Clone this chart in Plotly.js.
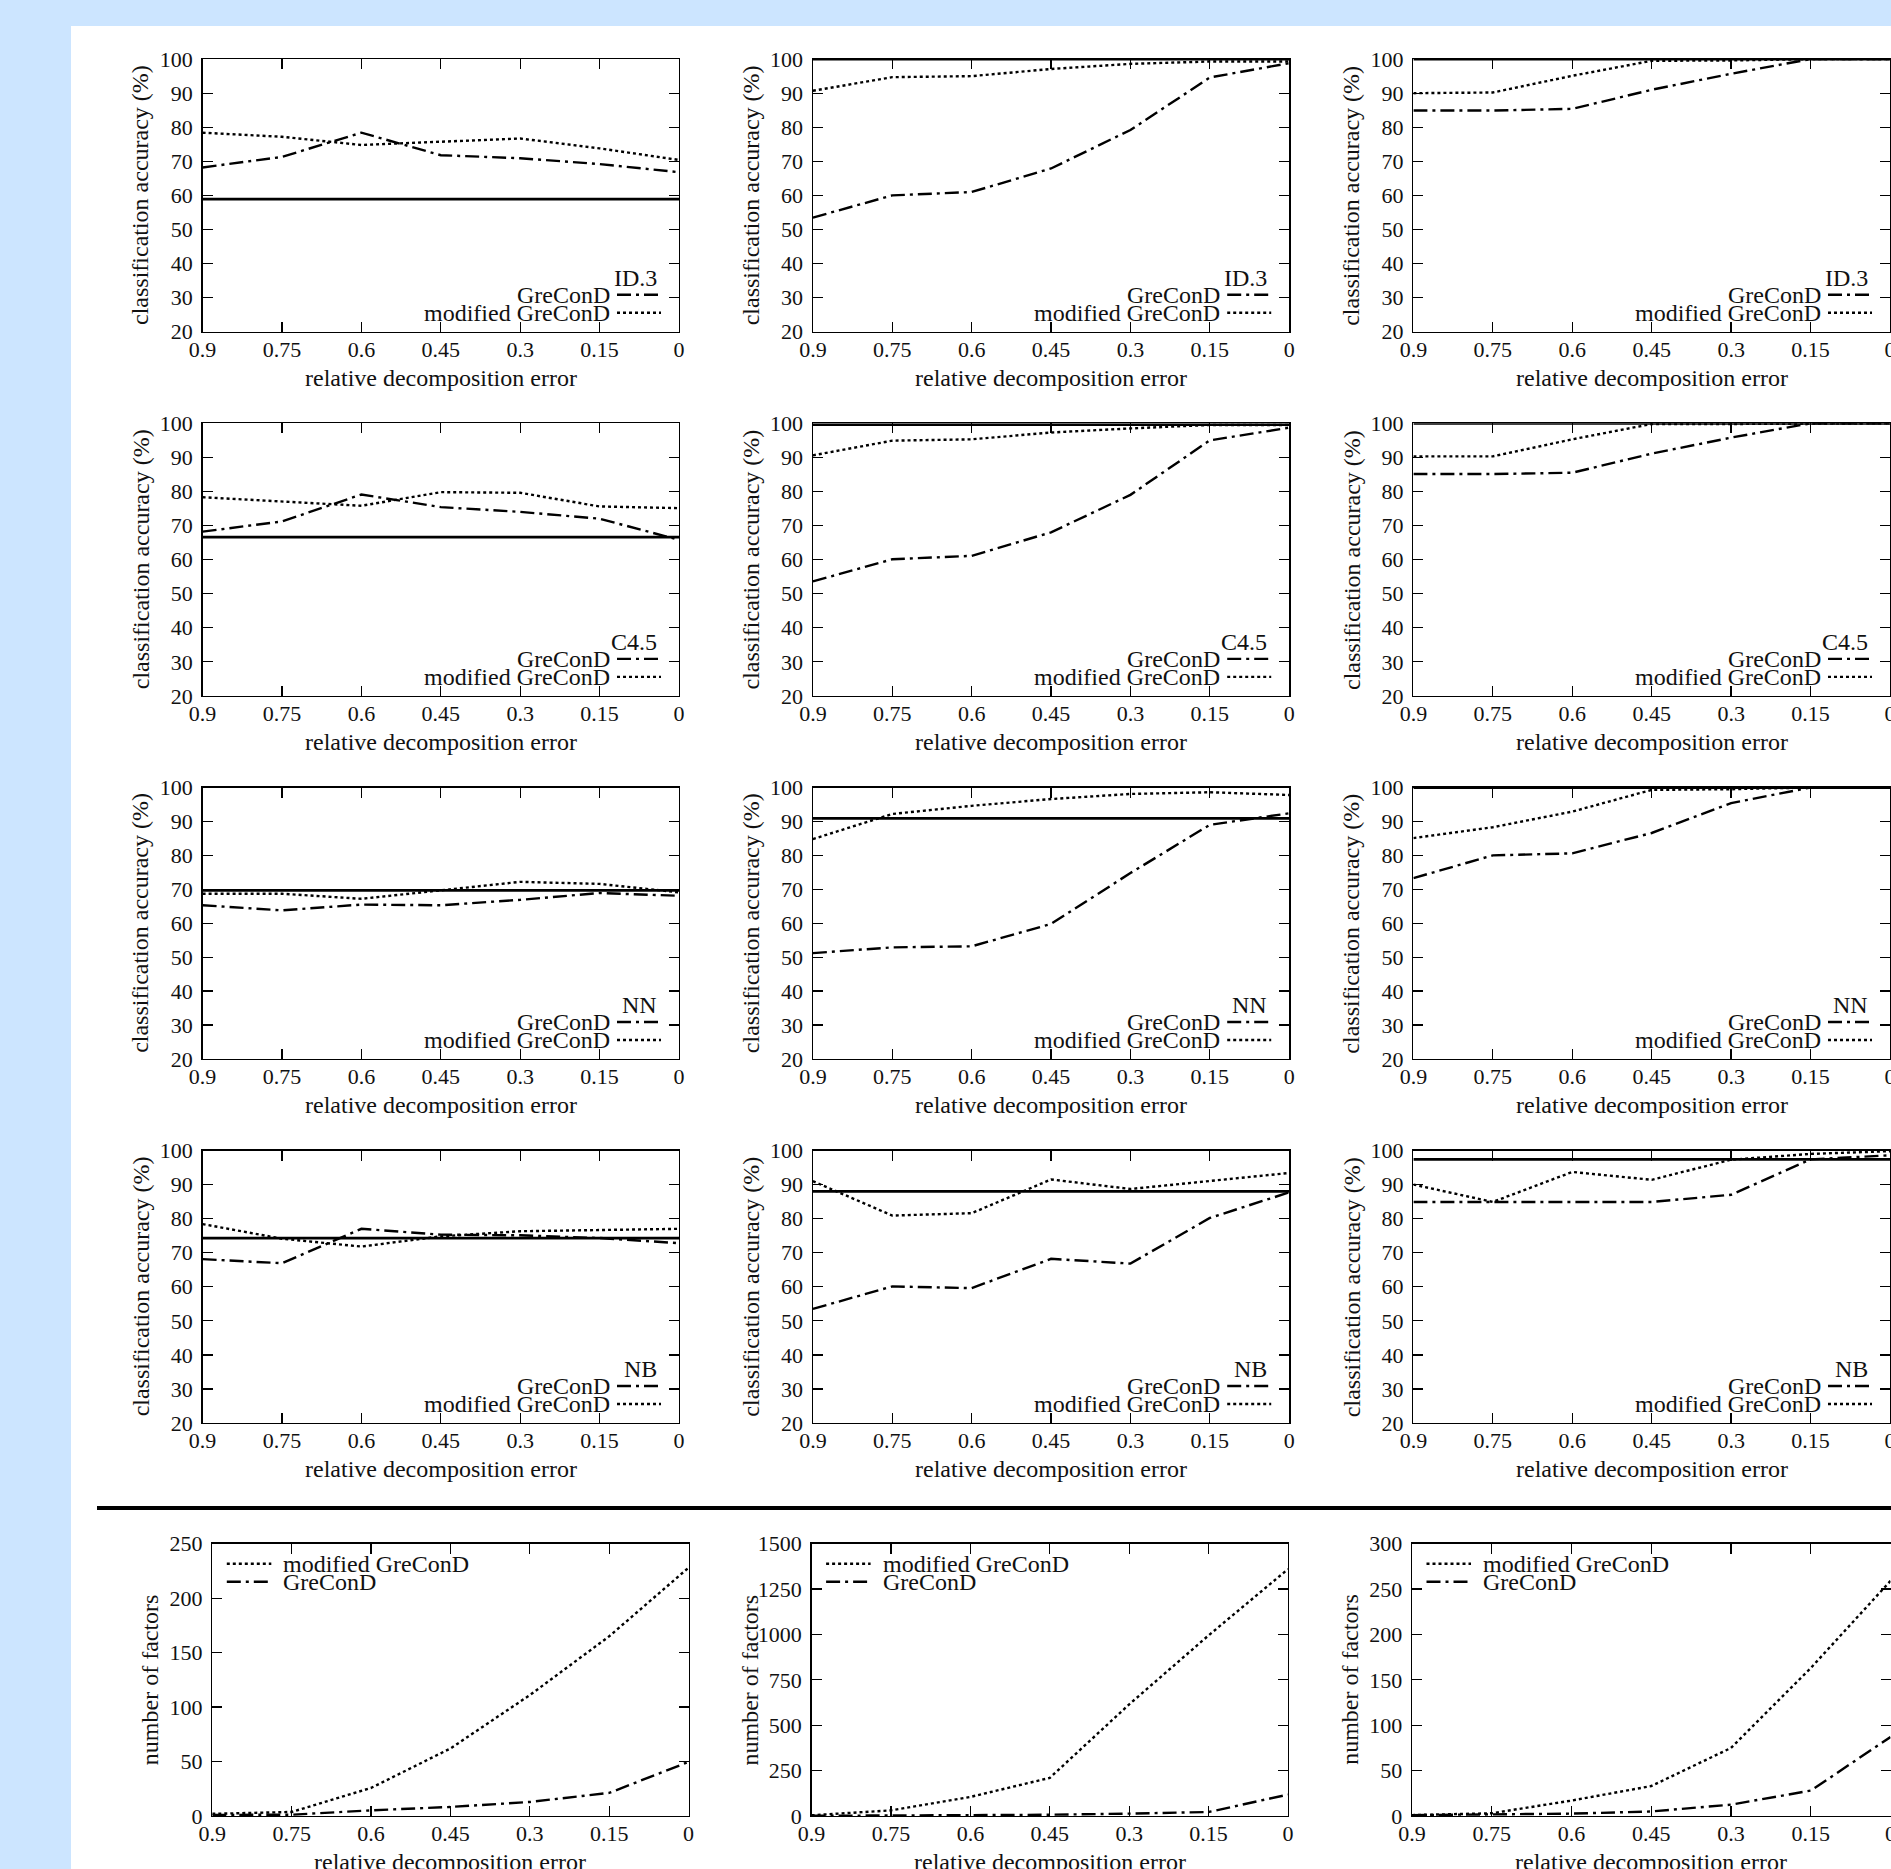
<!DOCTYPE html>
<html><head><meta charset="utf-8">
<script src="https://cdn.plot.ly/plotly-3.0.1.min.js"></script>
<style>
html,body{margin:0;padding:0;background:#cce5ff;width:1891px;height:1869px;overflow:hidden;}
#chart{position:absolute;left:71px;top:26px;width:1820px;height:1843px;background:#fff;}
</style></head><body><div id="chart"></div>
<script>
// ---------------- DATA ----------------
const errorLevels = [0.9, 0.75, 0.6, 0.45, 0.3, 0.15, 0];
const errorTickLabels = ['0.9', '0.75', '0.6', '0.45', '0.3', '0.15', '0'];
const classifiers = ['ID.3', 'C4.5', 'NN', 'NB'];
const seriesNames = ['GreConD', 'modified GreConD'];
const accuracyTicks = [20, 30, 40, 50, 60, 70, 80, 90, 100];

// accuracy on the original data (solid line), datasets 1..3
const baselineID3 = [58.9, 100, 100];
const baselineC45 = [66.6, 99.6, 100];
const baselineNN = [69.7, 90.9, 100];
const baselineNB = [74.3, 88.0, 97.4];

const id3GreConD1 = [68.2, 71.3, 78.4, 71.8, 70.9, 69.2, 66.8];
const id3Modified1 = [78.4, 77.2, 74.8, 75.8, 76.7, 73.8, 70.4];
const id3GreConD2 = [53.5, 60.0, 61.0, 67.9, 79.2, 94.6, 98.8];
const id3Modified2 = [90.7, 94.7, 95.0, 97.1, 98.6, 99.3, 99.3];
const id3GreConD3 = [84.9, 84.9, 85.4, 91.0, 95.7, 100, 100];
const id3Modified3 = [90.0, 90.2, 95.1, 99.5, 99.6, 100, 100];

const c45GreConD1 = [68.2, 71.2, 79.1, 75.4, 74.0, 72.0, 65.8];
const c45Modified1 = [78.3, 77.1, 75.8, 79.8, 79.6, 75.6, 75.1];
const c45GreConD2 = [53.6, 60.1, 61.1, 68.0, 79.0, 95.0, 98.7];
const c45Modified2 = [90.6, 94.9, 95.3, 97.3, 98.5, 99.5, 99.5];
const c45GreConD3 = [85.1, 85.1, 85.5, 91.1, 95.8, 100, 100];
const c45Modified3 = [90.3, 90.3, 95.3, 99.8, 99.8, 100, 100];

const nnGreConD1 = [65.3, 63.8, 65.5, 65.3, 66.9, 68.9, 68.1];
const nnModified1 = [68.7, 68.7, 67.2, 69.7, 72.2, 71.6, 69.1];
const nnGreConD2 = [51.2, 52.9, 53.2, 59.8, 74.8, 89.0, 92.4];
const nnModified2 = [84.8, 92.2, 94.6, 96.6, 98.1, 98.6, 97.8];
const nnGreConD3 = [73.3, 80.0, 80.6, 86.6, 95.4, 100, 100];
const nnModified3 = [85.1, 88.3, 92.9, 99.3, 99.5, 100, 100];

const nbGreConD1 = [68.1, 66.9, 77.0, 75.3, 75.1, 74.3, 72.8];
const nbModified1 = [78.4, 74.1, 71.8, 74.8, 76.3, 76.7, 77.0];
const nbGreConD2 = [53.5, 60.1, 59.6, 68.2, 66.8, 80.2, 87.7];
const nbModified2 = [91.0, 80.9, 81.6, 91.5, 88.7, 91.0, 93.4];
const nbGreConD3 = [84.9, 84.9, 84.9, 84.9, 87.0, 97.4, 98.6];
const nbModified3 = [90.0, 84.9, 93.7, 91.4, 97.3, 99.0, 99.8];

const factorsGreConD1 = [1, 1.2, 5.2, 8.3, 12.9, 21.2, 49.7];
const factorsModified1 = [2, 3.7, 25.8, 62, 111, 165, 228];
const factorsGreConD2 = [1, 2, 4, 7, 13, 22, 118];
const factorsModified2 = [4, 31, 105, 210, 615, 995, 1360];
const factorsGreConD3 = [1, 1.5, 2.6, 5, 12.5, 28, 87];
const factorsModified3 = [1, 3, 17, 33, 75, 163, 259];
const factorTicks1 = [0, 50, 100, 150, 200, 250];
const factorTicks2 = [0, 250, 500, 750, 1000, 1250, 1500];
const factorTicks3 = [0, 50, 100, 150, 200, 250, 300];

// ---------------- LAYOUT ----------------
const W = 1820, H = 1843;
const FONT = 'Liberation Serif, Times New Roman, serif';
const TXT = '#111';
const TICKSIZE = 22, TEXTSIZE = 24;
const accCols = [[131.6, 608], [741.9, 1218.2], [1342.4, 1819]];
const accRows = [[33.1, 305.7], [397.3, 669.9], [761.5, 1033], [1124.5, 1397]];
const facCols = [[141.3, 617.6], [740.6, 1217], [1341, 1819.5]];
const facRow = [1517.7, 1790];

const DASHDOT = '14px,5px,3px,5px';
const DOT = '3px,3px';

const accPanels = [
  [classifiers[0], baselineID3, [id3GreConD1, id3GreConD2, id3GreConD3], [id3Modified1, id3Modified2, id3Modified3]],
  [classifiers[1], baselineC45, [c45GreConD1, c45GreConD2, c45GreConD3], [c45Modified1, c45Modified2, c45Modified3]],
  [classifiers[2], baselineNN, [nnGreConD1, nnGreConD2, nnGreConD3], [nnModified1, nnModified2, nnModified3]],
  [classifiers[3], baselineNB, [nbGreConD1, nbGreConD2, nbGreConD3], [nbModified1, nbModified2, nbModified3]]
];
const facPanels = [
  [factorTicks1, factorsGreConD1, factorsModified1],
  [factorTicks2, factorsGreConD2, factorsModified2],
  [factorTicks3, factorsGreConD3, factorsModified3]
];

const traces = [];
const layout = {
  width: W, height: H,
  margin: {l: 0, r: 0, t: 0, b: 0, pad: 0},
  paper_bgcolor: '#ffffff', plot_bgcolor: '#ffffff',
  showlegend: false,
  font: {family: FONT, size: TEXTSIZE, color: TXT},
  annotations: [], shapes: []
};

function axCommon() {
  return {
    showline: true, mirror: 'allticks', linecolor: '#000', linewidth: 1.4,
    ticks: 'inside', ticklen: 10, tickwidth: 1.3, tickcolor: '#000',
    showgrid: false, zeroline: false, fixedrange: true,
    ticklabeloverflow: 'allow',
    tickfont: {family: FONT, size: TICKSIZE, color: TXT}
  };
}

let n = 0;
function addPanel(cols, rows, yTicks, yTitle, series, legend) {
  n += 1;
  const id = n === 1 ? '' : String(n);
  const xa = axCommon(), ya = axCommon();
  xa.domain = [cols[0] / W, cols[1] / W];
  xa.range = [errorLevels[0], errorLevels[errorLevels.length - 1]];
  xa.tickmode = 'array'; xa.tickvals = errorLevels; xa.ticktext = errorTickLabels;
  xa.anchor = 'y' + id;
  xa.ticklabelstandoff = -3;
  ya.domain = [1 - rows[1] / H, 1 - rows[0] / H];
  ya.range = [yTicks[0], yTicks[yTicks.length - 1]];
  ya.tickmode = 'array'; ya.tickvals = yTicks; ya.ticktext = yTicks.map(String);
  ya.anchor = 'x' + id;
  ya.ticklabelstandoff = 4;
  layout['xaxis' + id] = xa;
  layout['yaxis' + id] = ya;
  series.forEach(s => traces.push({
    x: errorLevels, y: s.y, name: s.name, type: 'scatter', mode: 'lines',
    xaxis: 'x' + id, yaxis: 'y' + id, showlegend: false, hoverinfo: 'skip',
    line: {color: '#000', width: s.width, dash: s.dash}
  }));
  // axis titles
  layout.annotations.push({
    text: 'relative decomposition error', xref: 'paper', yref: 'paper',
    x: (cols[0] + cols[1]) / 2 / W, y: 1 - (rows[1] + 46) / H,
    xanchor: 'center', yanchor: 'middle', showarrow: false,
    font: {family: FONT, size: TEXTSIZE, color: TXT}
  });
  layout.annotations.push({
    text: yTitle, xref: 'paper', yref: 'paper', textangle: -90,
    x: (cols[0] - 62) / W, y: 1 - (rows[0] + rows[1]) / 2 / H,
    xanchor: 'center', yanchor: 'middle', showarrow: false,
    font: {family: FONT, size: TEXTSIZE, color: TXT}
  });
  legend(id, cols, rows);
}

function legendBottomRight(title) {
  return function (id, cols, rows) {
    const w = cols[1] - cols[0], h = rows[1] - rows[0];
    const xr = 'x' + id + ' domain', yr = 'y' + id + ' domain';
    layout.annotations.push({
      text: title, xref: xr, yref: yr, x: 1 - 20 / w, y: 54 / h,
      xanchor: 'right', yanchor: 'middle', showarrow: false,
      font: {family: FONT, size: TEXTSIZE, color: TXT}
    });
    [[seriesNames[0], 37, DASHDOT], [seriesNames[1], 19, DOT]].forEach(e => {
      layout.annotations.push({
        text: e[0], xref: xr, yref: yr, x: 1 - 67 / w, y: e[1] / h,
        xanchor: 'right', yanchor: 'middle', showarrow: false,
        font: {family: FONT, size: TEXTSIZE, color: TXT}
      });
      layout.shapes.push({
        type: 'line', xref: xr, yref: yr, x0: 1 - 62 / w, x1: 1 - 18 / w,
        y0: e[1] / h, y1: e[1] / h, line: {color: '#000', width: 2.4, dash: e[2]}
      });
    });
  };
}

function legendTopLeft(id, cols, rows) {
  const w = cols[1] - cols[0], h = rows[1] - rows[0];
  const xr = 'x' + id + ' domain', yr = 'y' + id + ' domain';
  [[seriesNames[1], 20, DOT], [seriesNames[0], 38, DASHDOT]].forEach(e => {
    layout.annotations.push({
      text: e[0], xref: xr, yref: yr, x: 69 / w, y: 1 - e[1] / h,
      xanchor: 'left', yanchor: 'middle', showarrow: false,
      font: {family: FONT, size: TEXTSIZE, color: TXT}
    });
    layout.shapes.push({
      type: 'line', xref: xr, yref: yr, x0: 14.5 / w, x1: 59 / w,
      y0: 1 - e[1] / h, y1: 1 - e[1] / h, line: {color: '#000', width: 2.4, dash: e[2]}
    });
  });
}

accPanels.forEach((p, r) => {
  for (let c = 0; c < 3; c++) {
    addPanel(accCols[c], accRows[r], accuracyTicks, 'classification accuracy (%)', [
      {name: 'original data', y: errorLevels.map(() => p[1][c]), width: 2.8, dash: 'solid'},
      {name: seriesNames[0], y: p[2][c], width: 2.4, dash: DASHDOT},
      {name: seriesNames[1], y: p[3][c], width: 2.4, dash: DOT}
    ], legendBottomRight(p[0]));
  }
});

facPanels.forEach((p, c) => {
  addPanel(facCols[c], facRow, p[0], 'number of factors', [
    {name: seriesNames[1], y: p[2], width: 2.4, dash: DOT},
    {name: seriesNames[0], y: p[1], width: 2.4, dash: DASHDOT}
  ], legendTopLeft);
});

// separator line between accuracy and factor plots
layout.shapes.push({
  type: 'line', xref: 'paper', yref: 'paper', x0: 26 / W, x1: 1,
  y0: 1 - 1482 / H, y1: 1 - 1482 / H, line: {color: '#000', width: 4}
});

Plotly.newPlot('chart', traces, layout, {staticPlot: true, displayModeBar: false});
</script></body></html>
